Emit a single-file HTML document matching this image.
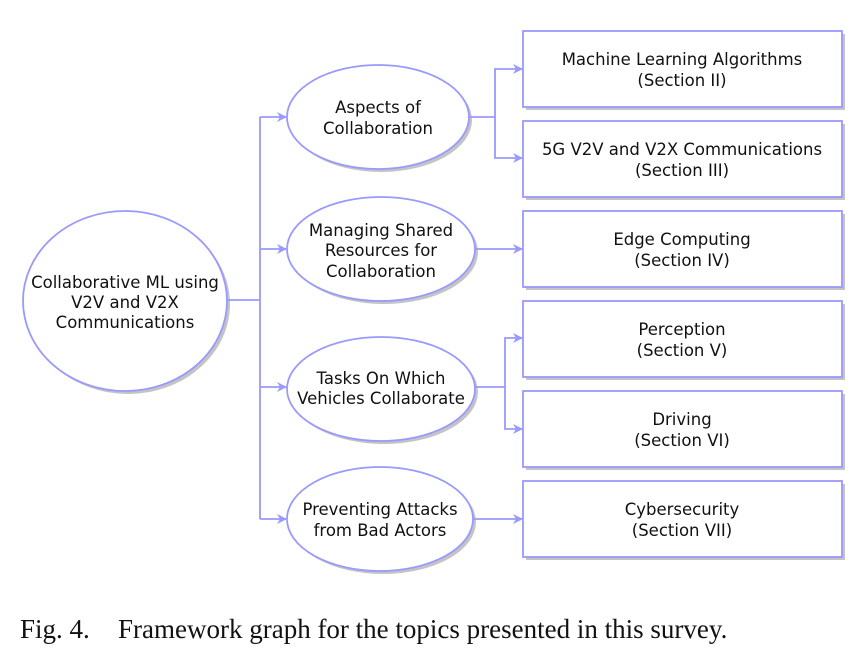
<!DOCTYPE html>
<html><head><meta charset="utf-8"><style>
body{margin:0;background:#fff;width:860px;height:665px;overflow:hidden}
svg text{font-family:"DejaVu Sans","Liberation Sans",sans-serif;font-size:16.5px;fill:#111;text-anchor:middle}
</style></head><body>
<svg width="860" height="665" viewBox="0 0 860 665" xmlns="http://www.w3.org/2000/svg">
<defs>
<marker id="a" markerWidth="10" markerHeight="10" refX="9" refY="5" orient="auto" markerUnits="userSpaceOnUse">
<path d="M0,0 L10,5 L0,10 L3,5 Z" fill="#9999ff"/></marker>
</defs>
<g fill="#c4c4c4">
<ellipse cx="128" cy="304" rx="102" ry="90"/>
<ellipse cx="381" cy="120" rx="91" ry="52"/>
<ellipse cx="384" cy="252" rx="94" ry="52"/>
<ellipse cx="384" cy="392" rx="94" ry="52"/>
<ellipse cx="383" cy="522" rx="93" ry="52"/>
<rect x="526" y="34" width="319" height="76"/>
<rect x="526" y="124" width="319" height="76"/>
<rect x="526" y="214" width="319" height="76"/>
<rect x="526" y="304" width="319" height="76"/>
<rect x="526" y="394" width="319" height="76"/>
<rect x="526" y="484" width="319" height="76"/>
</g>
<g fill="#fff" stroke="#9999ff" stroke-width="1.8">
<ellipse cx="125" cy="301" rx="102" ry="90"/>
<ellipse cx="378" cy="117" rx="91" ry="52"/>
<ellipse cx="381" cy="249" rx="94" ry="52"/>
<ellipse cx="381" cy="389" rx="94" ry="52"/>
<ellipse cx="380" cy="519" rx="93" ry="52"/>
<rect x="523" y="31" width="319" height="76"/>
<rect x="523" y="121" width="319" height="76"/>
<rect x="523" y="211" width="319" height="76"/>
<rect x="523" y="301" width="319" height="76"/>
<rect x="523" y="391" width="319" height="76"/>
<rect x="523" y="481" width="319" height="76"/>
</g>
<g fill="none" stroke="#9999ff" stroke-width="1.8">
<path d="M227,300 H260"/>
<path d="M260,117 V519"/>
<path d="M260,117 H286" marker-end="url(#a)"/>
<path d="M260,249 H286" marker-end="url(#a)"/>
<path d="M260,387 H286" marker-end="url(#a)"/>
<path d="M260,519 H286" marker-end="url(#a)"/>
<path d="M469,117 H495 V69 H522" marker-end="url(#a)"/>
<path d="M495,117 V158 H522" marker-end="url(#a)"/>
<path d="M475,249 H522" marker-end="url(#a)"/>
<path d="M475,387 H505 V338 H522" marker-end="url(#a)"/>
<path d="M505,387 V429 H522" marker-end="url(#a)"/>
<path d="M473,519 H522" marker-end="url(#a)"/>
</g>
<text x="125" y="288">Collaborative ML using</text>
<text x="125" y="308">V2V and V2X</text>
<text x="125" y="328">Communications</text>
<text x="378" y="113">Aspects of</text>
<text x="378" y="134">Collaboration</text>
<text x="381" y="236">Managing Shared</text>
<text x="381" y="256">Resources for</text>
<text x="381" y="277">Collaboration</text>
<text x="381" y="384">Tasks On Which</text>
<text x="381" y="404">Vehicles Collaborate</text>
<text x="380" y="515">Preventing Attacks</text>
<text x="380" y="536">from Bad Actors</text>
<text x="682" y="65">Machine Learning Algorithms</text>
<text x="682" y="86">(Section II)</text>
<text x="682" y="155">5G V2V and V2X Communications</text>
<text x="682" y="176">(Section III)</text>
<text x="682" y="245">Edge Computing</text>
<text x="682" y="266">(Section IV)</text>
<text x="682" y="335">Perception</text>
<text x="682" y="356">(Section V)</text>
<text x="682" y="425">Driving</text>
<text x="682" y="446">(Section VI)</text>
<text x="682" y="515">Cybersecurity</text>
<text x="682" y="536">(Section VII)</text>
<text x="20" y="638" style="font-family:'Liberation Serif',serif;font-size:27px;text-anchor:start">Fig. 4.</text>
<text x="118" y="638" style="font-family:'Liberation Serif',serif;font-size:27px;text-anchor:start">Framework graph for the topics presented in this survey.</text>
</svg>
</body></html>
